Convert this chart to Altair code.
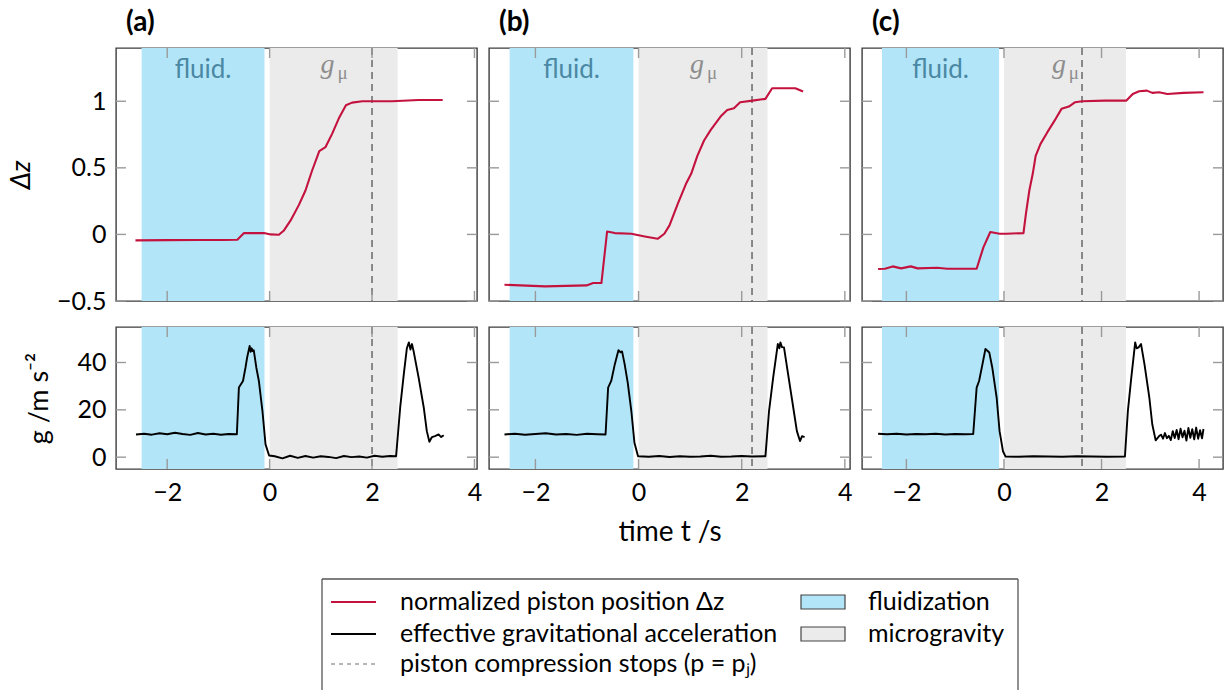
import altair as alt
import pandas as pd

# ---------------------------------------------------------------- data
# shaded phases (s): fluidization and microgravity, same for all runs
FLUID = [-2.5, -0.1]
MICRO = [0.0, 2.5]
# time at which piston compression stops, one per run
STOP_T = [2.0, 2.2, 1.6]
# x ranges of the three runs
XDOMS = [[-3.0, 4.05], [-2.9, 4.1], [-2.91, 4.49]]
PANEL_LABELS = ["(a)", "(b)", "(c)"]

# normalized piston position, run (a)
A_DZ_T = [-2.62, -2.0, -1.4, -0.9, -0.63, -0.50, -0.11, 0.02, 0.18, 0.28, 0.41, 0.57,
          0.70, 0.83, 0.97, 1.09, 1.22, 1.35, 1.49, 1.61, 1.81, 2.39, 2.91, 3.38]
A_DZ_V = [-0.045, -0.043, -0.042, -0.042, -0.04, 0.01, 0.01, 0.0, -0.003, 0.03, 0.105, 0.22,
          0.33, 0.48, 0.625, 0.655, 0.755, 0.87, 0.97, 0.99, 1.0, 1.0, 1.01, 1.01]
# normalized piston position, run (b)
B_DZ_T = [-2.60, -1.81, -1.01, -0.88, -0.72, -0.61, -0.46, -0.14, 0.12, 0.37, 0.50, 0.60,
          0.76, 0.92, 1.02, 1.14, 1.27, 1.40, 1.59, 1.72, 1.85, 1.97, 2.21, 2.46, 2.59,
          3.04, 3.19]
B_DZ_V = [-0.378, -0.39, -0.383, -0.365, -0.365, 0.022, 0.01, 0.005, -0.015, -0.033, 0.005,
          0.068, 0.23, 0.38, 0.455, 0.59, 0.705, 0.785, 0.885, 0.935, 0.948, 0.993, 1.005,
          1.018, 1.098, 1.098, 1.073]
# normalized piston position, run (c)
C_DZ_T = [-2.58, -2.44, -2.28, -2.11, -1.91, -1.77, -1.37, -1.16, -0.56, -0.42, -0.28,
          -0.09, 0.05, 0.40, 0.45, 0.52, 0.59, 0.65, 0.75, 0.89, 1.06, 1.18, 1.33, 1.46,
          1.60, 2.07, 2.51, 2.64, 2.77, 2.93, 3.04, 3.18, 3.35, 3.68, 4.09]
C_DZ_V = [-0.26, -0.258, -0.24, -0.255, -0.24, -0.255, -0.25, -0.258, -0.258, -0.095,
          0.018, 0.005, 0.005, 0.01, 0.155, 0.33, 0.455, 0.59, 0.68, 0.768, 0.868, 0.943,
          0.96, 0.993, 1.0, 1.005, 1.005, 1.055, 1.075, 1.08, 1.063, 1.068, 1.055, 1.063,
          1.068]

# effective gravitational acceleration (m/s^2), run (a)
A_G_T = [-2.61, -2.45, -2.3, -2.15, -2.0, -1.85, -1.7, -1.55, -1.4, -1.25, -1.1, -0.95,
         -0.8, -0.64, -0.60, -0.52, -0.47, -0.44, -0.41, -0.39, -0.37, -0.35, -0.33, -0.31,
         -0.26, -0.21, -0.14, -0.08, -0.01, 0.1, 0.25, 0.4, 0.55, 0.7, 0.85, 1.0, 1.15,
         1.3, 1.45, 1.6, 1.75, 1.9, 2.05, 2.2, 2.35, 2.47, 2.55, 2.62, 2.68, 2.72, 2.75,
         2.78, 2.81, 2.91, 3.01, 3.07, 3.12, 3.17, 3.23, 3.30, 3.35, 3.40]
A_G_V = [9.6, 9.9, 9.5, 10.1, 9.7, 10.3, 9.8, 9.4, 10.2, 9.6, 9.9, 9.5, 9.8, 9.7, 29.4,
         32.2, 38.0, 42.0, 45.0, 47.0, 44.5, 46.0, 44.8, 45.2, 37.9, 32.2, 19.5, 5.4, 0.7,
         0.4, -0.5, 0.6, -0.3, 0.5, -0.2, 0.4, 0.1, -0.4, 0.5, 0.0, 0.3, -0.2, 0.6, 0.2,
         0.5, 0.4, 21.0, 35.0, 46.0, 48.5, 45.5, 47.8, 45.0, 33.6, 21.0, 11.0, 6.5, 8.5,
         8.9, 9.6, 8.5, 9.3]
# effective gravitational acceleration, run (b)
B_G_T = [-2.60, -2.4, -2.2, -2.0, -1.8, -1.6, -1.4, -1.2, -1.0, -0.8, -0.64, -0.59, -0.53,
         -0.46, -0.39, -0.35, -0.32, -0.27, -0.21, -0.14, -0.08, -0.01, 0.2, 0.4, 0.6, 0.8,
         1.0, 1.2, 1.4, 1.6, 1.8, 2.0, 2.2, 2.46, 2.53, 2.61, 2.70, 2.73, 2.75, 2.78, 2.82,
         2.91, 3.01, 3.07, 3.13, 3.17, 3.22]
B_G_V = [9.6, 9.9, 9.5, 9.8, 10.1, 9.6, 9.8, 9.4, 9.9, 9.7, 9.6, 29.4, 32.2, 39.3, 45.2,
         44.3, 44.7, 39.3, 31.5, 19.5, 6.1, 0.4, 0.2, 0.5, 0.1, 0.4, 0.2, 0.3, 0.6, 0.2,
         0.3, 0.5, 0.3, 0.4, 19.5, 33.6, 47.8, 46.0, 48.5, 46.5, 46.4, 33.6, 19.5, 11.0,
         6.8, 8.9, 8.5]
# effective gravitational acceleration, run (c)
C_G_T = [-2.58, -2.4, -2.2, -2.0, -1.8, -1.6, -1.4, -1.2, -1.0, -0.8, -0.63, -0.56, -0.51,
         -0.44, -0.38, -0.30, -0.24, -0.15, -0.09, -0.02, 0.03, 0.3, 0.6, 0.9, 1.2, 1.5,
         1.8, 2.1, 2.48, 2.54, 2.61, 2.69, 2.72, 2.76, 2.81, 2.88, 2.98, 3.04, 3.11, 3.18,
         3.22, 3.26, 3.30, 3.34, 3.38, 3.42, 3.46, 3.50, 3.54, 3.58, 3.62, 3.66, 3.70,
         3.74, 3.78, 3.82, 3.86, 3.90, 3.94, 3.98, 4.02, 4.06, 4.09]
C_G_V = [9.9, 9.7, 9.9, 9.6, 9.8, 9.7, 9.9, 9.6, 9.8, 9.7, 9.8, 29.4, 32.2, 39.3, 45.7,
         44.2, 37.9, 25.2, 11.0, 2.5, 0.3, 0.2, 0.4, 0.3, 0.2, 0.4, 0.3, 0.2, 0.3, 19.5,
         33.6, 48.5, 46.0, 46.4, 47.8, 39.3, 25.2, 13.9, 7.1, 8.9, 9.5, 7.8, 10.2, 8.0,
         9.0, 7.2, 11.0, 8.1, 11.5, 7.6, 12.0, 8.4, 11.2, 7.0, 12.3, 8.2, 11.8, 7.5, 12.5,
         7.8, 11.4, 8.0, 11.9]

DZ_RUNS = [(A_DZ_T, A_DZ_V), (B_DZ_T, B_DZ_V), (C_DZ_T, C_DZ_V)]
G_RUNS = [(A_G_T, A_G_V), (B_G_T, B_G_V), (C_G_T, C_G_V)]

DZ_TICKS = [-0.5, 0, 0.5, 1]
G_TICKS = [0, 20, 40]
T_TICKS = [-2, 0, 2, 4]

LEGEND_LINES = ["normalized piston position Δz",
                "effective gravitational acceleration",
                "piston compression stops (p = p\u2C7C)"]
LEGEND_AREAS = ["fluidization", "microgravity"]

# ---------------------------------------------------------------- style
FONT = "Lato"
RED = "#C4123F"
BLUE = "#B3E5F8"
GREY = "#EBEBEB"
TICK = "#9A9A9A"
W = 361
H_TOP = 253
H_BOT = 142
TL = 10  # inner tick length


def band_frame():
    return pd.DataFrame({"start": [FLUID[0], MICRO[0]], "end": [FLUID[1], MICRO[1]],
                         "kind": ["fluid", "micro"]})


def panel(i, top):
    xdom = XDOMS[i]
    h = H_TOP if top else H_BOT
    xs = alt.Scale(domain=xdom, nice=False, zero=False)
    ys = (alt.Scale(domain=[-0.5, 1.4], nice=False, zero=False) if top
          else alt.Scale(domain=[-5, 55], nice=False, zero=False))
    yticks = DZ_TICKS if top else G_TICKS

    if top or i != 1:
        xtitle = ""
    else:
        xtitle = "time t  /s"
    if top:
        xaxis = None
    else:
        xaxis = alt.Axis(values=T_TICKS, format="~r", title=xtitle, tickSize=0,
                         domain=False, grid=False, labelPadding=11, labelFontSize=25,
                         titleFontSize=28, titleFontWeight="normal", titlePadding=13)
    if i == 0:
        yaxis = alt.Axis(values=yticks, format="~r", tickSize=0, domain=False, grid=False,
                         labelPadding=10, labelFontSize=25,
                         title="Δz" if top else "g  /m s⁻²",
                         titleFontSize=27, titleFontWeight="normal",
                         titleFontStyle="italic" if top else "normal",
                         titleBaseline="middle", titleX=-95 if top else -77)
    else:
        yaxis = None

    bands = alt.Chart(band_frame()).mark_rect().encode(
        x=alt.X("start:Q", scale=xs, axis=xaxis),
        x2="end:Q",
        color=alt.Color("kind:N", scale=alt.Scale(domain=["fluid", "micro"],
                                                  range=[BLUE, GREY]), legend=None),
    )
    stop = alt.Chart(pd.DataFrame({"t": [STOP_T[i]]})).mark_rule(
        color="#555555", strokeDash=[7, 5], strokeWidth=1.3).encode(
        x=alt.X("t:Q", scale=xs, axis=xaxis))

    tt, vv = DZ_RUNS[i] if top else G_RUNS[i]
    line = alt.Chart(pd.DataFrame({"t": tt, "v": vv})).mark_line(
        color=RED if top else "black", strokeWidth=2.1 if top else 1.9,
        strokeJoin="round").encode(
        x=alt.X("t:Q", scale=xs, axis=xaxis),
        y=alt.Y("v:Q", scale=ys, axis=yaxis),
        order="t:Q",
    )

    xt = pd.DataFrame({"v": [v for v in T_TICKS if xdom[0] < v < xdom[1]]})
    yt = pd.DataFrame({"v": yticks})
    tick_x_top = alt.Chart(xt).mark_rule(color=TICK, strokeWidth=1.4).encode(
        x=alt.X("v:Q", scale=xs, axis=xaxis), y=alt.value(0), y2=alt.value(TL))
    tick_x_bot = alt.Chart(xt).mark_rule(color=TICK, strokeWidth=1.4).encode(
        x=alt.X("v:Q", scale=xs, axis=xaxis), y=alt.value(h - TL), y2=alt.value(h))
    tick_y_l = alt.Chart(yt).mark_rule(color=TICK, strokeWidth=1.4).encode(
        y=alt.Y("v:Q", scale=ys, axis=yaxis), x=alt.value(0), x2=alt.value(TL))
    tick_y_r = alt.Chart(yt).mark_rule(color=TICK, strokeWidth=1.4).encode(
        y=alt.Y("v:Q", scale=ys, axis=yaxis), x=alt.value(W - TL), x2=alt.value(W))

    layers = [bands, stop, tick_x_top, tick_x_bot, tick_y_l, tick_y_r, line]

    if top:
        mids = pd.DataFrame({"fm": [(FLUID[0] + FLUID[1]) / 2],
                             "mm": [(MICRO[0] + MICRO[1]) / 2]})
        layers.append(alt.Chart(mids).mark_text(
            text="fluid.", font=FONT, fontSize=26, color="#4A88A4", baseline="middle").encode(
            x=alt.X("fm:Q", scale=xs, axis=xaxis), y=alt.value(22)))
        layers.append(alt.Chart(mids).mark_text(
            text="g", font="Liberation Serif", fontStyle="italic", fontSize=28,
            color="#8E8E8E", baseline="middle", dx=-6).encode(
            x=alt.X("mm:Q", scale=xs, axis=xaxis), y=alt.value(17)))
        layers.append(alt.Chart(mids).mark_text(
            text="μ", font="Liberation Serif", fontSize=19,
            color="#8E8E8E", baseline="middle", dx=9, dy=8).encode(
            x=alt.X("mm:Q", scale=xs, axis=xaxis), y=alt.value(17)))

    if (not top) and i == 1:
        # legend box below the panels, drawn relative to this panel
        ox, oy = -167, 252
        bw, bh = 696, 112
        rows = [275, 307, 337]
        box = "#555555"
        lg = pd.DataFrame({"k": [0]})
        layers += [
            alt.Chart(lg).mark_rule(color=box, strokeWidth=1.3).encode(
                x=alt.value(ox), x2=alt.value(ox + bw), y=alt.value(oy)),
            alt.Chart(lg).mark_rule(color=box, strokeWidth=1.3).encode(
                x=alt.value(ox), y=alt.value(oy), y2=alt.value(oy + bh)),
            alt.Chart(lg).mark_rule(color=box, strokeWidth=1.3).encode(
                x=alt.value(ox + bw), y=alt.value(oy), y2=alt.value(oy + bh)),
        ]
        styles = [dict(color=RED, strokeWidth=2.0), dict(color="black", strokeWidth=2.0),
                  dict(color="#6E6E6E", strokeWidth=1.2, strokeDash=[4, 4])]
        for r, (lab, st) in enumerate(zip(LEGEND_LINES, styles)):
            layers.append(alt.Chart(lg).mark_rule(**st).encode(
                x=alt.value(ox + 9), x2=alt.value(ox + 54), y=alt.value(rows[r])))
            layers.append(alt.Chart(lg).mark_text(
                text=lab, font=FONT, fontSize=25, align="left", baseline="middle",
                color="black").encode(x=alt.value(ox + 78), y=alt.value(rows[r])))
        for r, (lab, col) in enumerate(zip(LEGEND_AREAS, [BLUE, GREY])):
            layers.append(alt.Chart(lg).mark_rect(
                color=col, stroke="#444444", strokeWidth=1.2).encode(
                x=alt.value(ox + 479), x2=alt.value(ox + 523),
                y=alt.value(rows[r] - 7), y2=alt.value(rows[r] + 7)))
            layers.append(alt.Chart(lg).mark_text(
                text=lab, font=FONT, fontSize=25, align="left", baseline="middle",
                color="black").encode(x=alt.value(ox + 546), y=alt.value(rows[r])))

    ch = alt.layer(*layers).properties(width=W, height=h)
    if top:
        ch = ch.properties(title=alt.TitleParams(
            PANEL_LABELS[i], anchor="start", frame="group", fontSize=28,
            fontWeight="bold", font=FONT, offset=10, dx=10, color="black"))
    return ch


panels = [panel(i, True) for i in range(3)] + [panel(i, False) for i in range(3)]

chart = alt.concat(*panels, columns=3, spacing={"row": 26, "column": 12},
                   bounds="flush").properties(
    padding={"left": 6, "top": 8, "right": 5, "bottom": 0}
).configure(font=FONT).configure_view(
    stroke="#3C3C3C", strokeWidth=1.4
).configure_axis(labelColor="black", titleColor="black", labelFont=FONT, titleFont=FONT)

chart.save("out.html", embed_options={"renderer": "svg", "actions": False})
